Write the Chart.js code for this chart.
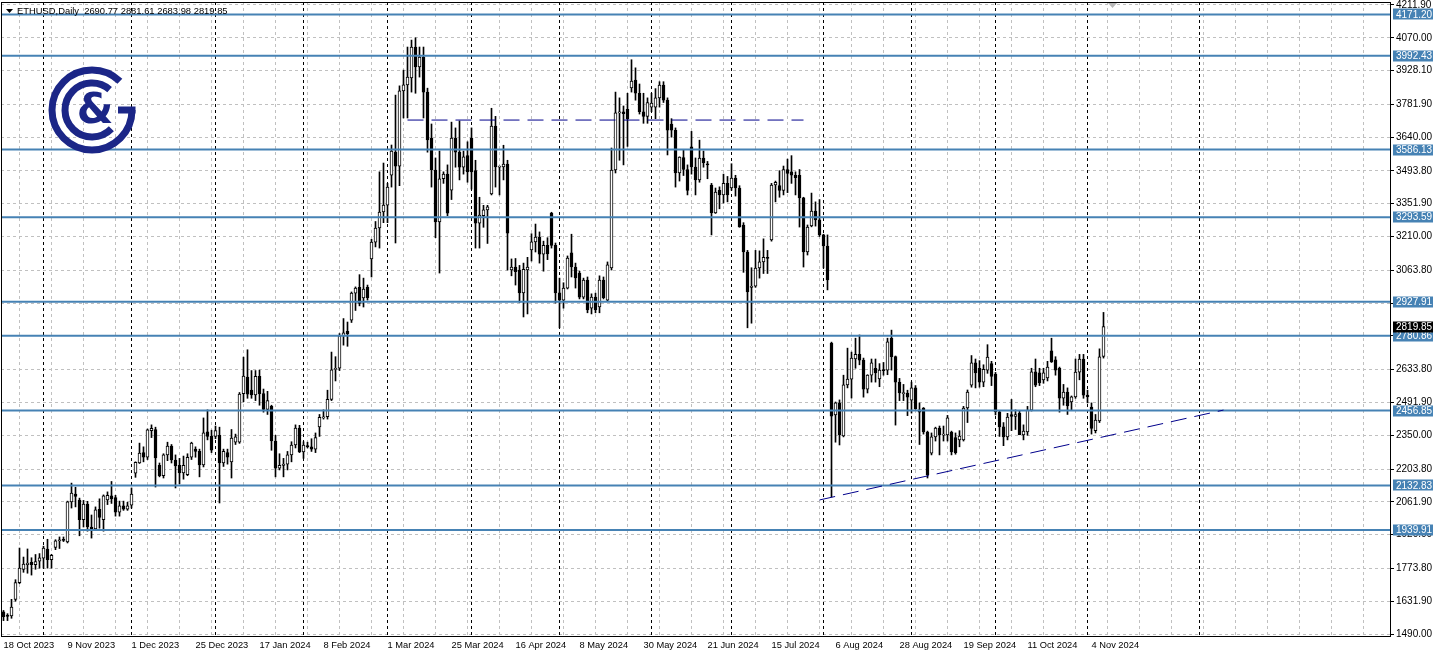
<!DOCTYPE html>
<html>
<head>
<meta charset="utf-8">
<title>ETHUSD, Daily</title>
<script src="https://cdn.jsdelivr.net/npm/chart.js@4.4.1/dist/chart.umd.min.js"></script>
<style>
  html, body { margin: 0; padding: 0; background: #fff; }
  canvas { display: block; }
</style>
</head>
<body>
<canvas id="grafico" width="1438" height="658"></canvas>
<script>
// --- 1. DATOS (velas diarias, una por dia habil, desde 18 Oct 2023) ---
const open = [
  1586, 1572, 1568, 1640, 1712, 1770, 1790, 1800, 1790, 1805,
  1818, 1858, 1812, 1865, 1893, 1898, 1888, 2062, 2095, 2070,
  1985, 2052, 1953, 1945, 2030, 1985, 2070, 2088, 2080, 2017,
  2045, 2030, 2048, 2186, 2230, 2275, 2255, 2370, 2375, 2220,
  2175, 2265, 2303, 2243, 2220, 2187, 2180, 2255, 2290, 2280,
  2222, 2365, 2345, 2345, 2350, 2230, 2275, 2235, 2320, 2320,
  2530, 2602, 2545, 2525, 2605, 2530, 2462, 2475, 2325, 2208,
  2220, 2225, 2265, 2308, 2381, 2278, 2305, 2300, 2290, 2386,
  2425, 2430, 2505, 2635, 2640, 2780, 2800, 2848, 2965, 2990,
  2944, 2990, 3113, 3186, 3247, 3316, 3346, 3476, 3575, 3515,
  3840, 3866, 3896, 4030, 3944, 3987, 3835, 3636, 3498, 3273,
  3460, 3480, 3411, 3636, 3575, 3510, 3560, 3636, 3495, 3268,
  3300, 3325, 3394, 3688, 3510, 3511, 3524, 3065, 3078, 3065,
  2966, 3065, 3152, 3187, 3208, 3134, 3172, 3311, 3172, 2966,
  2935, 2987, 3139, 3078, 3052, 2948, 3022, 2900, 2948, 2905,
  3022, 2935, 3074, 3498, 3745, 3750, 3760, 3853, 3887, 3830,
  3750, 3730, 3770, 3770, 3810, 3865, 3800, 3697, 3670, 3485,
  3552, 3500, 3598, 3511, 3455, 3550, 3525, 3433, 3312, 3410,
  3390, 3440, 3420, 3463, 3420, 3260, 3143, 2990, 2995, 3074,
  3100, 3120, 3195, 3433, 3430, 3410, 3500, 3490, 3475, 3475,
  3377, 3143, 3256, 3320, 3282, 3217, 3169, 2749, 2438, 2490,
  2347, 2568, 2593, 2680, 2700, 2675, 2550, 2610, 2640, 2594,
  2632, 2632, 2770, 2690, 2580, 2530, 2533, 2502, 2555, 2460,
  2468, 2364, 2273, 2343, 2381, 2350, 2351, 2364, 2340, 2330,
  2330, 2468, 2567, 2663, 2640, 2580, 2632, 2660, 2615, 2451,
  2386, 2343, 2440, 2432, 2446, 2351, 2364, 2459, 2624, 2620,
  2590, 2598, 2715, 2676, 2640, 2510, 2537, 2494, 2516, 2623,
  2680, 2524, 2472, 2370, 2412, 2690.77
];
const high = [
  1592, 1578, 1640, 1725, 1862, 1823, 1858, 1820, 1834, 1838,
  1870, 1900, 1835, 1898, 1910, 1910, 2065, 2143, 2125, 2078,
  2068, 2064, 2005, 2040, 2075, 2092, 2105, 2150, 2090, 2065,
  2065, 2060, 2122, 2235, 2316, 2300, 2377, 2395, 2385, 2230,
  2270, 2320, 2310, 2265, 2250, 2260, 2270, 2320, 2300, 2290,
  2425, 2460, 2372, 2390, 2385, 2290, 2290, 2375, 2355, 2535,
  2688, 2720, 2630, 2630, 2632, 2550, 2540, 2480, 2350, 2270,
  2250, 2280, 2322, 2395, 2393, 2322, 2320, 2335, 2360, 2440,
  2460, 2545, 2710, 2690, 2790, 2855, 2840, 2970, 2992, 3045,
  3030, 3000, 3198, 3275, 3490, 3528, 3440, 3606, 3822, 3862,
  3930, 4030, 4060, 4070, 4030, 4030, 3852, 3697, 3550, 3580,
  3490, 3520, 3705, 3680, 3710, 3580, 3620, 3680, 3540, 3380,
  3345, 3345, 3765, 3730, 3515, 3605, 3540, 3113, 3115, 3085,
  3095, 3120, 3222, 3264, 3230, 3190, 3205, 3315, 3182, 3030,
  3010, 3126, 3220, 3095, 3060, 3030, 3035, 2962, 2965, 3040,
  3035, 3100, 3593, 3835, 3810, 3775, 3830, 3975, 3940, 3870,
  3830, 3810, 3830, 3850, 3880, 3880, 3810, 3720, 3680, 3555,
  3585, 3520, 3665, 3550, 3627, 3580, 3535, 3440, 3420, 3425,
  3480, 3470, 3525, 3475, 3430, 3270, 3150, 3075, 3150, 3148,
  3200, 3150, 3440, 3450, 3495, 3515, 3545, 3560, 3490, 3500,
  3380, 3260, 3398, 3360, 3370, 3220, 3217, 2753, 2494, 2503,
  2610, 2727, 2710, 2770, 2784, 2684, 2612, 2680, 2680, 2660,
  2665, 2770, 2805, 2693, 2596, 2570, 2545, 2580, 2565, 2490,
  2470, 2368, 2360, 2385, 2390, 2390, 2436, 2368, 2360, 2370,
  2475, 2546, 2695, 2680, 2673, 2655, 2742, 2670, 2622, 2455,
  2405, 2445, 2505, 2460, 2456, 2395, 2475, 2640, 2680, 2640,
  2640, 2670, 2770, 2690, 2645, 2570, 2555, 2520, 2680, 2700,
  2700, 2545, 2490, 2440, 2724, 2881.61
];
const low = [
  1548, 1548, 1558, 1632, 1708, 1757, 1753, 1745, 1770, 1775,
  1775, 1775, 1775, 1855, 1860, 1890, 1884, 2035, 2040, 1915,
  1953, 1935, 1905, 1940, 1948, 1935, 2050, 2055, 2000, 2000,
  2025, 2025, 2035, 2168, 2228, 2235, 2245, 2340, 2126, 2170,
  2165, 2240, 2230, 2122, 2140, 2160, 2175, 2245, 2255, 2170,
  2213, 2330, 2275, 2335, 2057, 2215, 2225, 2165, 2310, 2315,
  2495, 2510, 2510, 2500, 2480, 2450, 2440, 2285, 2170, 2200,
  2170, 2200, 2235, 2295, 2275, 2250, 2295, 2280, 2275, 2345,
  2420, 2420, 2500, 2585, 2630, 2740, 2735, 2838, 2890, 2910,
  2905, 2935, 3035, 3165, 3160, 3270, 3270, 3424, 3182, 3430,
  3723, 3723, 3835, 3830, 3900, 3723, 3575, 3424, 3205, 3052,
  3440, 3300, 3370, 3510, 3455, 3480, 3445, 3415, 3160, 3160,
  3250, 3180, 3390, 3424, 3390, 3455, 3065, 3040, 3000, 2925,
  2862, 2875, 3104, 3143, 3095, 3060, 3110, 3160, 2922, 2815,
  2900, 2983, 3035, 2987, 2940, 2940, 2880, 2875, 2880, 2880,
  2940, 2930, 3065, 3485, 3540, 3520, 3600, 3835, 3800, 3740,
  3700, 3700, 3750, 3720, 3770, 3790, 3563, 3640, 3424, 3450,
  3474, 3390, 3480, 3390, 3445, 3510, 3460, 3217, 3310, 3330,
  3355, 3360, 3410, 3385, 3250, 3055, 2815, 2835, 2990, 3030,
  3050, 3050, 3190, 3360, 3380, 3390, 3400, 3440, 3390, 3251,
  3078, 3130, 3252, 3255, 3210, 3074, 2979, 2083, 2320, 2308,
  2343, 2555, 2511, 2640, 2655, 2515, 2533, 2580, 2580, 2560,
  2610, 2612, 2632, 2394, 2500, 2500, 2435, 2446, 2462, 2310,
  2355, 2165, 2265, 2325, 2265, 2325, 2325, 2265, 2268, 2300,
  2325, 2405, 2558, 2555, 2558, 2560, 2618, 2565, 2438, 2345,
  2305, 2330, 2370, 2375, 2354, 2330, 2350, 2455, 2560, 2565,
  2575, 2585, 2665, 2610, 2450, 2480, 2440, 2460, 2510, 2590,
  2510, 2490, 2355, 2360, 2405, 2683.98
];
const close = [
  1565, 1566, 1607, 1712, 1775, 1793, 1797, 1790, 1803, 1820,
  1862, 1812, 1830, 1893, 1898, 1895, 2062, 2100, 2085, 1985,
  2052, 1953, 1945, 2027, 1995, 2088, 2090, 2075, 2017, 2045,
  2030, 2045, 2095, 2233, 2273, 2255, 2373, 2380, 2252, 2175,
  2265, 2303, 2243, 2217, 2187, 2220, 2255, 2316, 2280, 2222,
  2360, 2345, 2285, 2370, 2230, 2280, 2255, 2338, 2343, 2528,
  2606, 2528, 2525, 2605, 2530, 2462, 2500, 2325, 2208, 2220,
  2225, 2265, 2308, 2381, 2278, 2308, 2300, 2290, 2340, 2428,
  2430, 2505, 2633, 2640, 2780, 2793, 2790, 2965, 2987, 2920,
  2983, 2945, 3186, 3247, 3316, 3346, 3424, 3580, 3515, 3840,
  3866, 3900, 4030, 3944, 3987, 3835, 3628, 3498, 3273, 3460,
  3480, 3311, 3636, 3575, 3510, 3555, 3490, 3490, 3268, 3303,
  3325, 3338, 3688, 3511, 3510, 3524, 3225, 3078, 3058, 2966,
  3068, 3078, 3187, 3208, 3134, 3172, 3135, 3172, 2966, 2935,
  2987, 3117, 3078, 3031, 2948, 3022, 2892, 2948, 2892, 3022,
  2945, 3087, 3498, 3745, 3750, 3742, 3720, 3883, 3830, 3750,
  3730, 3790, 3787, 3810, 3865, 3800, 3670, 3670, 3485, 3554,
  3500, 3410, 3511, 3455, 3550, 3530, 3520, 3312, 3402, 3390,
  3440, 3390, 3463, 3420, 3252, 3143, 2970, 2995, 3074, 3100,
  3120, 3115, 3433, 3445, 3410, 3500, 3483, 3475, 3465, 3377,
  3143, 3251, 3320, 3282, 3217, 3169, 3022, 2433, 2490, 2351,
  2568, 2593, 2684, 2700, 2675, 2550, 2610, 2663, 2620, 2632,
  2630, 2754, 2690, 2580, 2533, 2535, 2515, 2555, 2465, 2450,
  2364, 2178, 2343, 2381, 2351, 2355, 2425, 2278, 2275, 2347,
  2468, 2537, 2663, 2620, 2580, 2635, 2688, 2605, 2451, 2386,
  2343, 2429, 2432, 2440, 2351, 2368, 2459, 2624, 2567, 2576,
  2620, 2645, 2667, 2632, 2510, 2537, 2477, 2516, 2623, 2680,
  2524, 2516, 2380, 2416, 2689, 2819.85
];

// Etiquetas del eje de tiempo (una cada 16 velas)
const etiquetasFecha = [
  '18 Oct 2023', '9 Nov 2023', '1 Dec 2023', '25 Dec 2023', '17 Jan 2024', '8 Feb 2024',
  '1 Mar 2024', '25 Mar 2024', '16 Apr 2024', '8 May 2024', '30 May 2024', '21 Jun 2024',
  '15 Jul 2024', '6 Aug 2024', '28 Aug 2024', '19 Sep 2024', '11 Oct 2024', '4 Nov 2024'
];
// Escala de precios de la derecha
const ticksPrecio = [
  4211.90, 4070.00, 3928.10, 3781.90, 3640.00, 3493.80, 3351.90, 3210.00, 3063.80, 2921.90,
  2780.00, 2633.80, 2491.90, 2350.00, 2203.80, 2061.90, 1920.00, 1773.80, 1631.90, 1490.00
];
// Niveles horizontales (lineas azules)
const niveles = [4171.20, 3992.43, 3586.13, 3293.59, 2927.91, 2780.86, 2456.85, 2132.83, 1939.91];
// Primera vela de cada mes (separadores punteados negros)
const inicioMes = [10, 32, 53, 75, 96, 117, 139, 162, 182, 205, 227, 248, 271, 299];
// Lineas dibujadas a mano: [indice de vela, precio]
const lineaTecho = [[101, 3714], [200, 3714]];
const lineaTendencia = [[204, 2070], [305, 2459]];
const cabecera = ['ETHUSD,Daily', '2690.77', '2881.61', '2683.98', '2819.85'];

// --- 2. PREPARACION DE DATASETS ---
const indices = close.map((_, i) => i);
const cuerpos = indices.map(i => ({ x: i, y: [open[i], close[i]] }));
const mechas = indices.map(i => ({ x: i, y: [low[i], high[i]] }));
const rellenos = indices.map(i => (close[i] >= open[i] ? '#ffffff' : '#000000'));
const ultimo = close[close.length - 1];

const AZUL = '#4682b4';
const MARINO = '#00008b';
const LOGO = '#1b2687';
const FUENTE = '"Liberation Sans", Arial, sans-serif';

const X_MIN = -0.625;
const X_MAX = 346.625;

const datasetsNiveles = niveles.map(v => ({
  type: 'line',
  data: [{ x: X_MIN, y: v }, { x: X_MAX, y: v }],
  borderColor: AZUL,
  borderWidth: 2,
  pointRadius: 0,
  order: 1
}));

const lineaPunteada = (puntos) => ({
  type: 'line',
  data: puntos.map(p => ({ x: p[0], y: p[1] })),
  borderColor: MARINO,
  borderWidth: 1,
  borderDash: [16, 8],
  pointRadius: 0,
  order: 0
});

// --- 3. PLUGIN: separadores, marco, etiquetas y logo ---
const extrasMT4 = {
  id: 'extrasMT4',
  beforeDatasetsDraw(chart) {
    const { ctx, chartArea, scales: { x } } = chart;
    ctx.save();
    ctx.strokeStyle = '#000';
    ctx.lineWidth = 1;
    ctx.setLineDash([3, 3]);
    inicioMes.forEach(i => {
      const px = x.getPixelForValue(i);
      ctx.beginPath();
      ctx.moveTo(px, chartArea.top);
      ctx.lineTo(px, chartArea.bottom);
      ctx.stroke();
    });
    ctx.restore();
  },
  afterDraw(chart) {
    const { ctx, chartArea, scales: { y } } = chart;
    ctx.save();

    // marco del grafico
    ctx.strokeStyle = '#000';
    ctx.lineWidth = 1;
    ctx.strokeRect(chartArea.left + 0.5, chartArea.top + 0.5,
      chartArea.right - chartArea.left, chartArea.bottom - chartArea.top - 1);

    // etiquetas de los niveles y del precio actual
    ctx.font = '10px ' + FUENTE;
    ctx.textBaseline = 'middle';
    ctx.textAlign = 'left';
    const etiqueta = (v, fondo) => {
      const py = y.getPixelForValue(v);
      ctx.fillStyle = fondo;
      ctx.fillRect(chartArea.right + 3, Math.round(py) - 5.5, 40, 11);
      ctx.fillStyle = '#fff';
      ctx.fillText(v.toFixed(2), chartArea.right + 6, py + 0.5);
    };
    niveles.forEach(v => etiqueta(v, AZUL));
    etiqueta(ultimo, '#000');

    // cabecera
    ctx.fillStyle = '#000';
    ctx.beginPath();
    ctx.moveTo(6, 9); ctx.lineTo(13, 9); ctx.lineTo(9.5, 13);
    ctx.closePath();
    ctx.fill();
    ctx.font = '9.4px ' + FUENTE;
    ctx.textBaseline = 'alphabetic';
    ctx.fillText(cabecera[0] + '  ' + cabecera.slice(1).join(' '), 17, 13.5);

    // marca de desplazamiento (triangulo gris)
    ctx.fillStyle = '#b8b8b8';
    ctx.beginPath();
    ctx.moveTo(1108, 3); ctx.lineTo(1117, 3); ctx.lineTo(1112.5, 8);
    ctx.closePath();
    ctx.fill();

    // logo
    const cx = 92, cy = 110;
    ctx.strokeStyle = LOGO;
    ctx.fillStyle = LOGO;
    ctx.lineWidth = 7;
    ctx.beginPath();
    ctx.arc(cx, cy, 40, 0, Math.PI * 2 - 0.8);
    ctx.stroke();
    ctx.fillRect(cx + 26, cy - 3.5, 17.5, 7);
    ctx.beginPath();
    ctx.arc(cx, cy, 27, 0.77, Math.PI * 2 - 0.86);
    ctx.stroke();
    ctx.font = 'bold 42px "DejaVu Sans", sans-serif';
    ctx.textAlign = 'center';
    ctx.textBaseline = 'middle';
    ctx.fillText('&', cx + 3, cy + 2);

    ctx.restore();
  }
};

// --- 4. GRAFICO ---
Chart.defaults.font.family = FUENTE;
Chart.defaults.font.size = 10;
Chart.defaults.color = '#000';

const sinRelleno = (scale) => {
  scale.paddingTop = 0;
  scale.paddingBottom = 0;
  scale.paddingLeft = 0;
  scale.paddingRight = 0;
};

const ctx = document.getElementById('grafico').getContext('2d');
new Chart(ctx, {
  type: 'bar',
  data: {
    datasets: [
      {
        label: 'mechas',
        data: mechas,
        backgroundColor: '#000',
        barThickness: 1,
        grouped: false,
        order: 3
      },
      {
        label: 'velas',
        data: cuerpos,
        backgroundColor: rellenos,
        borderColor: '#000',
        borderWidth: 1,
        borderSkipped: false,
        barThickness: 3,
        minBarLength: 1,
        grouped: false,
        order: 2
      },
      ...datasetsNiveles,
      lineaPunteada(lineaTecho),
      lineaPunteada(lineaTendencia)
    ]
  },
  options: {
    responsive: false,
    devicePixelRatio: 1,
    animation: false,
    events: [],
    layout: { padding: { left: 1, top: 2, right: 0, bottom: 0 } },
    plugins: { legend: { display: false }, tooltip: { enabled: false } },
    scales: {
      x: {
        type: 'linear',
        min: X_MIN,
        max: X_MAX,
        offset: false,
        border: { display: false, dash: [3, 3] },
        grid: { color: '#c0c0c0', drawTicks: false },
        afterBuildTicks: (scale) => {
          const t = [];
          for (let i = 0; i <= 344; i += 8) t.push({ value: i });
          scale.ticks = t;
        },
        afterFit: (scale) => { scale.height = 21; sinRelleno(scale); },
        ticks: {
          autoSkip: false,
          maxRotation: 0,
          minRotation: 0,
          align: 'start',
          padding: 3,
          font: { size: 9.3 },
          callback: (v) => (v % 16 === 0 && etiquetasFecha[v / 16]) ? etiquetasFecha[v / 16] : ''
        }
      },
      y: {
        type: 'linear',
        position: 'right',
        min: 1477.02,
        max: 4224.88,
        border: { display: false, dash: [3, 3] },
        grid: { color: '#c0c0c0', tickColor: '#000', tickLength: 4, tickBorderDash: [] },
        afterBuildTicks: (scale) => { scale.ticks = ticksPrecio.map(v => ({ value: v })); },
        afterFit: (scale) => { scale.width = 48; sinRelleno(scale); },
        ticks: {
          autoSkip: false,
          padding: 2,
          callback: (v) => v.toFixed(2)
        }
      }
    }
  },
  plugins: [extrasMT4]
});
</script>
</body>
</html>
